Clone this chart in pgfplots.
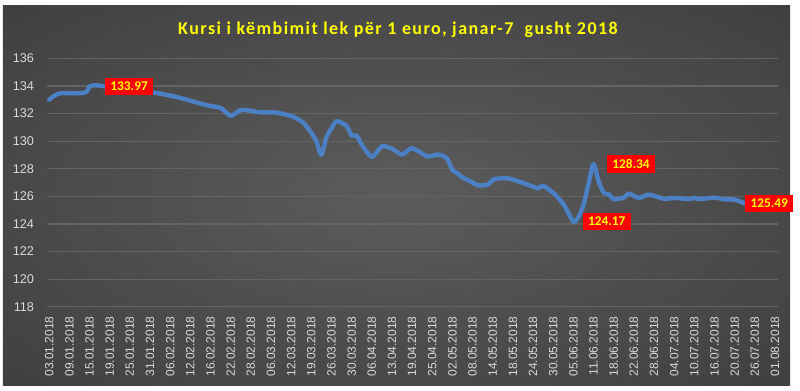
\documentclass[border=0pt]{standalone}
\usepackage{pgfplots}
\pgfplotsset{compat=1.18}
\usepackage{fontspec}
\setmainfont{Liberation Sans}
\newfontfamily\carlito{Carlito}
\newfontfamily\titlefont[LetterSpace=8]{Carlito}
\newlength\px \setlength\px{0.75pt}
\definecolor{bgin}{RGB}{92,92,92}
\definecolor{bgmid}{RGB}{52,52,52}
\definecolor{bgout}{RGB}{34,34,34}
\definecolor{lineblue}{RGB}{76,128,196}
\definecolor{gridc}{RGB}{100,100,100}
\definecolor{ticktxt}{RGB}{217,217,217}
\definecolor{ttl}{RGB}{255,255,0}
\tikzset{dl/.style={fill=red, text=ttl, font=\carlito\bfseries\fontsize{10}{11}\selectfont, inner xsep=5.5\px, inner ysep=4\px, anchor=west}}
\pgfdeclareradialshading{bgshade}{\pgfpoint{0bp}{0bp}}{color(0bp)=(bgin); color(50bp)=(bgmid); color(71bp)=(bgout)}
\pgfplotstableread{
idx val
0 133.00
2 133.45
7 133.50
8 133.95
9 134.05
11 133.97
21 133.50
25 133.22
27 133.03
31 132.62
34 132.40
36 131.84
38 132.25
40 132.20
42 132.08
45 132.07
48 131.82
50 131.45
51 131.10
52 130.60
53 130.00
54 129.00
55 130.30
56 130.90
57 131.45
59 131.10
60 130.40
61 130.40
62 129.75
64 128.85
66 129.62
68 129.45
70 129.02
72 129.48
75 128.90
77 129.03
78 128.95
79 128.70
80 127.90
81 127.67
82 127.35
83 127.20
85 126.80
87 126.85
88 127.20
89 127.28
91 127.30
93 127.10
96 126.70
97 126.58
98 126.75
100 126.25
102 125.45
104 124.17
105 124.50
106 125.35
107 126.90
108 128.34
109 127.10
110 126.25
111 126.15
112 125.80
114 125.90
115 126.20
117 125.88
119 126.12
122 125.82
124 125.88
127 125.80
128 125.88
129 125.80
132 125.90
134 125.78
136 125.76
138 125.49
}\rates
\begin{document}
\begin{tikzpicture}
\useasboundingbox (-46.7\px,-83.3\px) rectangle (753.3\px,306.7\px);
\fill[white] (-46.7\px,-83.3\px) rectangle (753.3\px,306.7\px);
\shade[shading=bgshade] (-43.7\px,-78.3\px) rectangle (743.3\px,301.7\px);
\node[text=ttl, font=\titlefont\bfseries\fontsize{13.5}{15}\selectfont] at (351.3\px,276.7\px) {Kursi i këmbimit lek për 1 euro, janar-7\ \ gusht 2018};
\begin{axis}[at={(0,0)}, anchor=south west, scale only axis,
  width=731.3\px, height=248.4\px,
  xmin=-0.5, xmax=144.6, ymin=118, ymax=136,
  ytick={118,120,...,136}, ymajorgrids, grid style={gridc, line width=0.9pt},
  xtick={0,4,...,144},
  xticklabels={03.01.2018,09.01.2018,15.01.2018,19.01.2018,25.01.2018,31.01.2018,06.02.2018,12.02.2018,16.02.2018,22.02.2018,28.02.2018,06.03.2018,12.03.2018,19.03.2018,26.03.2018,30.03.2018,06.04.2018,13.04.2018,19.04.2018,25.04.2018,02.05.2018,08.05.2018,14.05.2018,18.05.2018,24.05.2018,30.05.2018,05.06.2018,11.06.2018,18.06.2018,22.06.2018,28.06.2018,04.07.2018,10.07.2018,16.07.2018,20.07.2018,26.07.2018,01.08.2018},
  x tick label style={rotate=90, anchor=east, font=\fontsize{9}{10}\selectfont, text=ticktxt},
  y tick label style={font=\fontsize{9.5}{10}\selectfont, text=ticktxt},
  xticklabel shift=5\px, yticklabel shift=8\px,
  axis line style={draw=none}, major tick length=0pt,
  /pgf/number format/assume math mode=true,
  clip=false]
\addplot[lineblue, line width=3.3pt, smooth, tension=0.4, line join=round, line cap=round] table[x=idx,y=val] {\rates};
\node[dl] at (axis cs:11,133.97) {133.97};
\node[dl, xshift=13\px] at (axis cs:108,128.34) {128.34};
\node[dl, xshift=9\px] at (axis cs:104,124.17) {124.17};
\node[dl] at (axis cs:138,125.49) {125.49};
\end{axis}
\end{tikzpicture}
\end{document}
